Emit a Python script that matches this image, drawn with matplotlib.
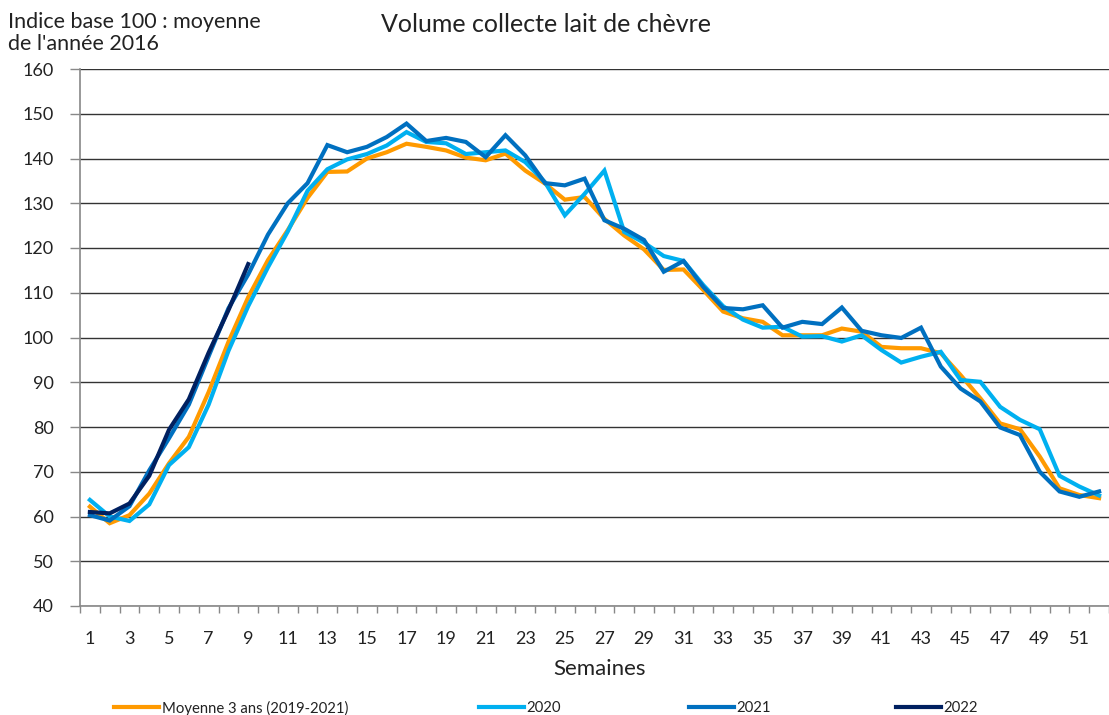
import numpy as np
import matplotlib
matplotlib.use("Agg")
import matplotlib.pyplot as plt
from matplotlib.ticker import FixedLocator

plt.rcParams['font.family'] = ['Lato', 'DejaVu Sans']

semaines = list(range(1, 53))

moyenne = [62.2, 58.5, 60.3, 65.1, 71.9, 77.8, 87.8, 99.0, 109.0, 117.3,
           124.0, 131.2, 137.0, 137.1, 140.0, 141.4, 143.3, 142.6, 141.8, 140.2,
           139.6, 141.1, 137.3, 134.4, 130.8, 131.4, 126.5, 122.8, 119.7, 115.1,
           115.2, 110.6, 105.8, 104.3, 103.5, 100.5, 100.5, 100.5, 102.0, 101.3,
           97.9, 97.6, 97.6, 96.5, 91.6, 86.4, 80.8, 79.5, 73.4, 66.3,
           64.8, 64.1]

annee_2020 = [63.7, 60.0, 59.0, 62.7, 71.5, 75.5, 85.0, 97.0, 107.0, 115.7,
              123.7, 132.8, 137.6, 139.8, 141.0, 142.9, 145.9, 143.7, 143.4, 141.0,
              141.4, 141.8, 139.2, 134.7, 127.3, 132.1, 137.3, 123.6, 121.2, 118.2,
              117.1, 111.7, 107.0, 104.0, 102.2, 102.4, 100.2, 100.3, 99.1, 100.5,
              97.2, 94.4, 95.7, 96.8, 90.5, 90.1, 84.5, 81.6, 79.5, 69.1,
              66.7, 64.7]

annee_2021 = [60.3, 59.1, 62.3, 70.3, 77.5, 85.0, 95.8, 106.5, 114.1, 123.0,
              130.0, 134.5, 143.0, 141.4, 142.6, 144.8, 147.8, 143.9, 144.6, 143.7,
              140.3, 145.2, 140.7, 134.5, 134.0, 135.5, 126.2, 124.3, 121.8, 114.7,
              117.1, 111.3, 106.6, 106.3, 107.2, 102.2, 103.5, 103.0, 106.7, 101.5,
              100.5, 99.9, 102.2, 93.5, 88.6, 85.7, 79.9, 78.2, 70.0, 65.6,
              64.4, 65.6]

annee_2022 = [61.0, 60.7, 62.9, 69.1, 79.4, 86.2, 96.6, 106.1, 116.4]

series = [
    ("Moyenne 3 ans (2019-2021)", moyenne, "#FF9A00"),
    ("2020", annee_2020, "#00B0F0"),
    ("2021", annee_2021, "#0070C0"),
    ("2022", annee_2022, "#002060"),
]

fig = plt.figure(figsize=(11.09, 7.15), dpi=100)
ax = fig.add_axes([80 / 1109, 1 - 606 / 715, 1 - 80 / 1109, (606 - 69) / 715])

lines = []
for nom, vals, couleur in series:
    ln, = ax.plot(semaines[:len(vals)], vals, color=couleur, lw=3.0,
                  solid_joinstyle='miter', label=nom, clip_on=False)
    lines.append(ln)

ax.set_xlim(0.5, 52.5)
ax.set_ylim(40, 160)
ax.set_yticks(np.arange(40, 161, 10))
ax.yaxis.grid(True, color='#333333', lw=1.0)
ax.set_axisbelow(True)

# ticks aux limites des categories, etiquettes une semaine sur deux
ax.xaxis.set_major_locator(FixedLocator(np.arange(0.5, 53, 1)))
ax.xaxis.set_major_formatter(plt.NullFormatter())
ax.xaxis.set_minor_locator(FixedLocator(semaines[::2]))
ax.set_xticklabels([str(s) for s in semaines[::2]], minor=True)
ax.tick_params(axis='x', which='major', length=5, color='#888888', width=1)
ax.tick_params(axis='x', which='minor', length=0, pad=18, labelsize=13, labelcolor='#222222')
ax.tick_params(axis='y', length=7, color='#888888', width=1, pad=12, labelsize=13,
               labelcolor='#222222')

for s in ['top', 'right']:
    ax.spines[s].set_visible(False)
for s in ['left', 'bottom']:
    ax.spines[s].set_color('#888888')
    ax.spines[s].set_linewidth(1.2)

fig.text(381 / 1109, 1 - 25 / 715, "Volume collecte lait de chèvre",
         fontsize=18, va='center', ha='left', color='#222222')
fig.text(8 / 1109, 1 - 33 / 715, "Indice base 100 : moyenne\nde l'année 2016",
         fontsize=15.5, va='center', ha='left', linespacing=1.1, color='#222222')
fig.text(600 / 1109, 1 - 669 / 715, "Semaines", fontsize=16, va='center', ha='center',
         color='#222222')

positions = [114, 479, 689, 896]
for ln, x in zip(lines, positions):
    fig.legend(handles=[ln], loc='center left', bbox_to_anchor=(x / 1109, 1 - 708 / 715),
               frameon=False, fontsize=10.7, handlelength=3.0, handletextpad=0.2,
               borderpad=0, borderaxespad=0, labelcolor='#222222')

fig.savefig("out.png", dpi=100)
